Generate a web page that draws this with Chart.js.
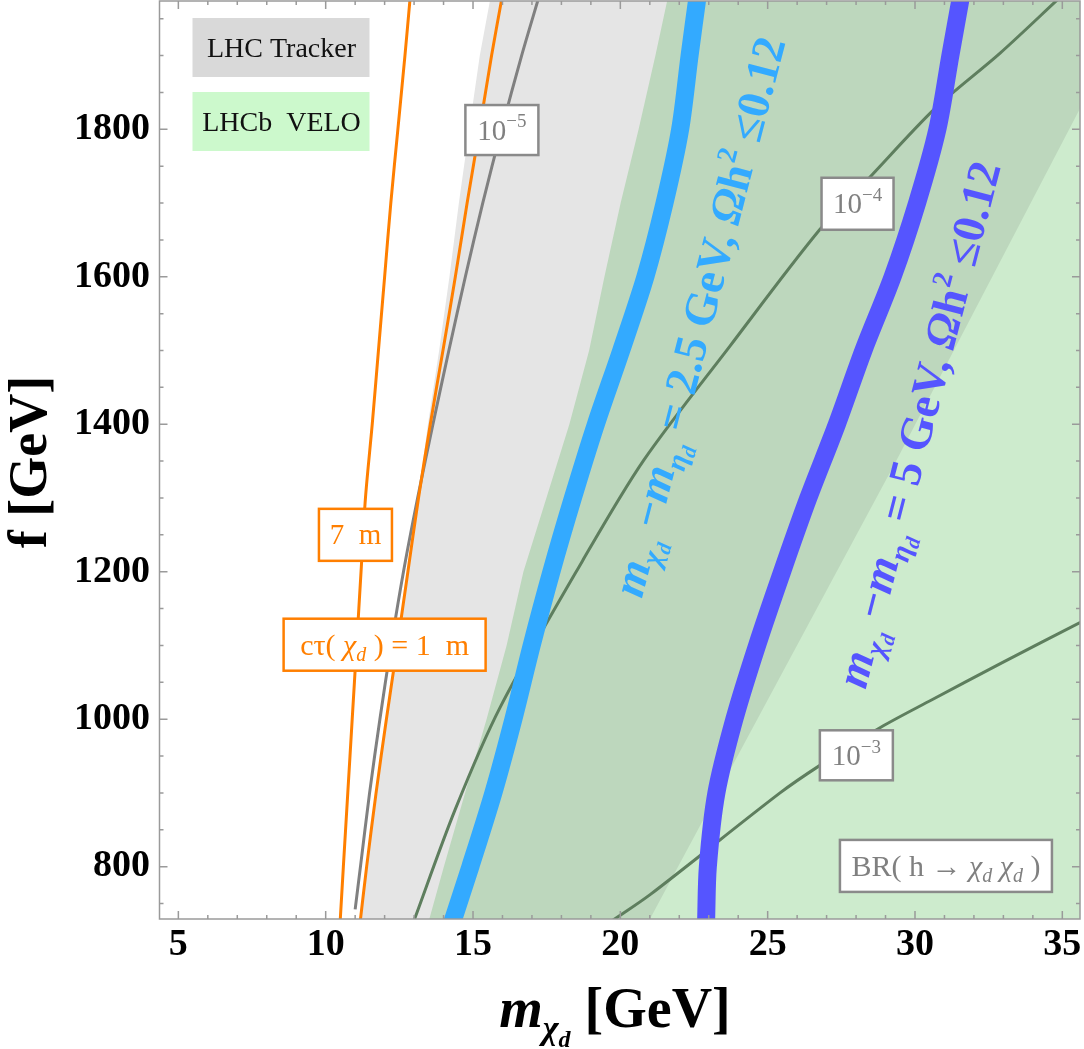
<!DOCTYPE html>
<html>
<head>
<meta charset="utf-8">
<title>f vs m_chi_d</title>
<script src="https://cdn.jsdelivr.net/npm/chart.js@4.4.1/dist/chart.umd.min.js"></script>
<style>
  body { margin: 0; background: #ffffff; }
  canvas { display: block; }
</style>
</head>
<body>
<canvas id="grafica" width="1084" height="1049"></canvas>
<script>
const fGrid = [725, 800, 900, 1000, 1100, 1200, 1300, 1400, 1500, 1600, 1700, 1800, 1900, 1980];

// m_chi_d [GeV] of each curve along fGrid
const ctau7m      = [10.49, 10.60, 10.75, 10.90, 11.05, 11.20, 11.35, 11.58, 11.79, 12.00, 12.21, 12.45, 12.69, 12.87];
const ctau1m      = [11.17, 11.39, 11.71, 12.06, 12.43, 12.79, 13.15, 13.55, 13.98, 14.40, 14.80, 15.22, 15.63, 15.99];
const trackerEdge = [11.17, 11.39, 11.71, 12.06, 12.43, 12.79, 13.13, 13.47, 13.85, 14.20, 14.52, 14.87, 15.23, 15.60];
const veloEdge    = [13.49, 14.01, 14.73, 15.46, 16.14, 16.71, 17.49, 18.27, 18.94, 19.46, 20.01, 20.62, 21.19, 21.62];
const relic25     = [14.30, 14.91, 15.69, 16.37, 16.99, 17.66, 18.39, 19.17, 20.03, 20.85, 21.50, 22.03, 22.35, 22.62];
const relic5      = [22.91, 22.97, 23.26, 23.87, 24.64, 25.49, 26.38, 27.35, 28.25, 29.24, 30.07, 30.76, 31.20, 31.56];

// far side of the tracker band (only VELO beyond it)
const trackerFarF = [725, 1347, 1838, 1980];
const trackerFarM = [20.95, 29.32, 35.73, 37.58];

// BR(h -> chi chi) contours
const br5F = [742, 800, 900, 1000, 1100, 1200, 1300, 1400, 1500, 1600, 1700, 1800, 1900, 1980];
const br5M = [11.00, 11.18, 11.49, 11.84, 12.22, 12.64, 13.12, 13.64, 14.18, 14.74, 15.33, 15.97, 16.65, 17.24];
const br4F = [725, 877, 1016, 1215, 1351, 1506, 1664, 1733, 1829, 1903, 1980];
const br4M = [12.98, 14.39, 15.92, 18.72, 20.79, 23.72, 26.77, 28.42, 30.70, 32.88, 34.95];
const br3F = [725, 762, 900, 937, 989, 1026, 1075, 1131, 1160];
const br3M = [19.66, 21.01, 25.42, 26.76, 28.84, 30.56, 32.88, 35.60, 37.00];

const xTicks = [5, 10, 15, 20, 25, 30, 35];
const yTicks = [800, 1000, 1200, 1400, 1600, 1800];

const SERIF = '"Liberation Serif", "Times New Roman", serif';
const ORANGE = '#ff7f00';
const LIGHTBLUE = '#33aaff';
const DARKBLUE = '#5555ff';

const pts = (m, f) => m.map((v, i) => ({x: v, y: f[i]}));

// filled to the right of an edge
const region = (m, f, color, order) => ({
    data: pts(m, f),
    borderColor: 'rgba(0,0,0,0)',
    borderWidth: 0,
    backgroundColor: color,
    fill: {value: 40},
    tension: 0,
    order: order,
    clip: 0
});

const curve = (m, f, color, width, order) => ({
    data: pts(m, f),
    borderColor: color,
    borderWidth: width,
    fill: false,
    tension: 0.3,
    borderCapStyle: 'butt',
    borderJoinStyle: 'round',
    order: order,
    clip: 0
});

const datasets = [
    region(trackerEdge, fGrid, '#e5e5e5', 10),
    region(veloEdge, fGrid, '#bdd7bd', 9),
    region(trackerFarM, trackerFarF, '#cdebcd', 8),
    curve(br5M, br5F, '#808080', 3, 5),
    curve(br4M, br4F, '#5e7e5e', 3, 5),
    curve(br3M, br3F, '#5e7e5e', 3, 5),
    curve(ctau7m, fGrid, ORANGE, 3, 4),
    curve(ctau1m, fGrid, ORANGE, 3, 4),
    curve(relic25, fGrid, LIGHTBLUE, 18, 3),
    curve(relic5, fGrid, DARKBLUE, 18, 3)
];

// text pieces: t text, s size factor, dy shift in em, it italic, b bold
function drawRich(ctx, parts, x, y, size, color, bold) {
    const fontOf = p => (p.it ? 'italic ' : '') + ((bold || p.b) ? 'bold ' : '') +
        Math.round(size * (p.s || 1)) + 'px ' + SERIF;
    let w = 0;
    parts.forEach(p => { ctx.font = fontOf(p); w += ctx.measureText(p.t).width; });
    let cx = x - w / 2;
    ctx.fillStyle = color;
    ctx.textAlign = 'left';
    ctx.textBaseline = 'alphabetic';
    parts.forEach(p => {
        ctx.font = fontOf(p);
        ctx.fillText(p.t, cx, y + (p.dy || 0) * size);
        cx += ctx.measureText(p.t).width;
    });
}

const pow = e => [{t: '10'}, {t: e, s: 0.66, dy: -0.42}];
const chi = [{t: 'χ', it: true}, {t: 'd', it: true, s: 0.68, dy: 0.22}];

// boxed labels, anchored in data coordinates
const notes = [
    {m: 15.98, f: 1799, w: 73, h: 50, size: 29, color: '#808080', edge: '#8a8a8a', parts: pow('−5')},
    {m: 28.05, f: 1699, w: 72, h: 52, size: 29, color: '#808080', edge: '#8a8a8a', parts: pow('−4')},
    {m: 28.01, f: 951, w: 73, h: 50, size: 29, color: '#808080', edge: '#8a8a8a', parts: pow('−3')},
    {m: 31.05, f: 801, w: 212, h: 52, size: 30, color: '#808080', edge: '#8a8a8a',
        parts: [{t: 'BR( h → '}].concat(chi, [{t: ' '}], chi, [{t: ' )'}])},
    {m: 11.01, f: 1250, w: 73, h: 52, size: 29, color: ORANGE, edge: ORANGE, parts: [{t: '7  m'}]},
    {m: 12.00, f: 1101, w: 202, h: 52, size: 30, color: ORANGE, edge: ORANGE,
        parts: [{t: 'cτ( '}].concat(chi, [{t: ' ) = 1  m'}])}
];

const relicText = gap => [
    {t: 'm', it: true}, {t: 'χ', s: 0.62, dy: 0.2, it: true}, {t: 'd', s: 0.45, dy: 0.34, it: true},
    {t: ' −'}, {t: 'm', it: true}, {t: 'η', s: 0.62, dy: 0.2, it: true}, {t: 'd', s: 0.45, dy: 0.34, it: true},
    {t: ' = ' + gap + ' GeV, '}, {t: 'Ω', it: true}, {t: 'h'}, {t: '2', s: 0.6, dy: -0.42}, {t: ' ≤0.12'}
];

const slanted = [
    {m: 22.67, f: 1546, color: LIGHTBLUE, parts: relicText('2.5')},
    {m: 30.12, f: 1400, color: DARKBLUE, parts: relicText('5')}
];

const legendItems = [
    {label: 'LHC Tracker', color: '#d9d9d9'},
    {label: 'LHCb  VELO', color: '#ccf9cc'}
];

const deco = {
    id: 'deco',
    afterDatasetsDraw(chart) {
        const {ctx, chartArea: a, scales: {x, y}} = chart;
        ctx.save();

        // slanted relic-density labels
        slanted.forEach(s => {
            ctx.save();
            ctx.translate(x.getPixelForValue(s.m), y.getPixelForValue(s.f));
            ctx.rotate(-75.5 * Math.PI / 180);
            drawRich(ctx, s.parts, 0, 46 * 0.33, 46, s.color, true);
            ctx.restore();
        });

        // boxed labels
        notes.forEach(n => {
            const cx = x.getPixelForValue(n.m), cy = y.getPixelForValue(n.f);
            ctx.fillStyle = '#ffffff';
            ctx.fillRect(cx - n.w / 2, cy - n.h / 2, n.w, n.h);
            ctx.lineWidth = 2.5;
            ctx.strokeStyle = n.edge;
            ctx.strokeRect(cx - n.w / 2, cy - n.h / 2, n.w, n.h);
            drawRich(ctx, n.parts, cx, cy + n.size * 0.33, n.size, n.color, false);
        });

        // legend boxes
        legendItems.forEach((it, i) => {
            const bx = a.left + 33, by = a.top + 17 + i * 74;
            ctx.fillStyle = it.color;
            ctx.fillRect(bx, by, 177, 59);
            drawRich(ctx, [{t: it.label}], bx + 89, by + 39, 28, '#111111', false);
        });

        // frame with inward ticks on all sides
        ctx.strokeStyle = '#9a9a9a';
        ctx.lineWidth = 1.5;
        ctx.strokeRect(a.left, a.top, a.right - a.left, a.bottom - a.top);
        ctx.beginPath();
        for (let v = Math.ceil(x.min); v <= x.max; v++) {
            const px = x.getPixelForValue(v), len = v % 5 === 0 ? 8 : 4;
            ctx.moveTo(px, a.bottom); ctx.lineTo(px, a.bottom - len);
            ctx.moveTo(px, a.top); ctx.lineTo(px, a.top + len);
        }
        for (let v = Math.ceil(y.min / 50) * 50; v <= y.max; v += 50) {
            const py = y.getPixelForValue(v), len = v % 200 === 0 ? 8 : 4;
            ctx.moveTo(a.left, py); ctx.lineTo(a.left + len, py);
            ctx.moveTo(a.right, py); ctx.lineTo(a.right - len, py);
        }
        ctx.stroke();

        // axis titles
        drawRich(ctx, [{t: 'm', it: true}, {t: 'χ', s: 0.6, dy: 0.22, it: true},
            {t: 'd', s: 0.42, dy: 0.36, it: true}, {t: ' [GeV]'}], 615, 1027, 56, '#000000', true);
        ctx.save();
        ctx.translate(46, 462);
        ctx.rotate(-Math.PI / 2);
        drawRich(ctx, [{t: 'f [GeV]'}], 0, 0, 54, '#000000', true);
        ctx.restore();

        ctx.restore();
    }
};

const tickFont = {family: SERIF, size: 38, weight: 'bold'};

const config = {
    type: 'line',
    data: {datasets: datasets},
    options: {
        responsive: false,
        animation: false,
        events: [],
        indexAxis: 'y',
        layout: {padding: {top: 1, right: 4, left: 0, bottom: 0}},
        elements: {point: {radius: 0, hoverRadius: 0}, line: {capBezierPoints: false}},
        plugins: {legend: {display: false}, tooltip: {enabled: false}},
        scales: {
            x: {
                type: 'linear', position: 'bottom', min: 4.36, max: 35.6, bounds: 'data',
                grid: {display: false, drawTicks: false}, border: {display: false},
                afterBuildTicks: s => { s.ticks = xTicks.map(v => ({value: v})); },
                afterFit: s => { s.height = 130; s.paddingLeft = 0; s.paddingRight = 0; },
                ticks: {font: tickFont, color: '#000000', padding: 3, maxRotation: 0, autoSkip: false,
                    callback: v => String(v)}
            },
            y: {
                type: 'linear', position: 'left', min: 729, max: 1974, bounds: 'data',
                grid: {display: false, drawTicks: false}, border: {display: false},
                afterBuildTicks: s => { s.ticks = yTicks.map(v => ({value: v})); },
                afterFit: s => { s.width = 159.5; s.paddingTop = 0; s.paddingBottom = 0; },
                ticks: {font: tickFont, color: '#000000', padding: 9.5, autoSkip: false,
                    callback: v => String(v)}
            }
        }
    },
    plugins: [deco]
};

const ctx = document.getElementById('grafica').getContext('2d');
const grafica = new Chart(ctx, config);
</script>
</body>
</html>
